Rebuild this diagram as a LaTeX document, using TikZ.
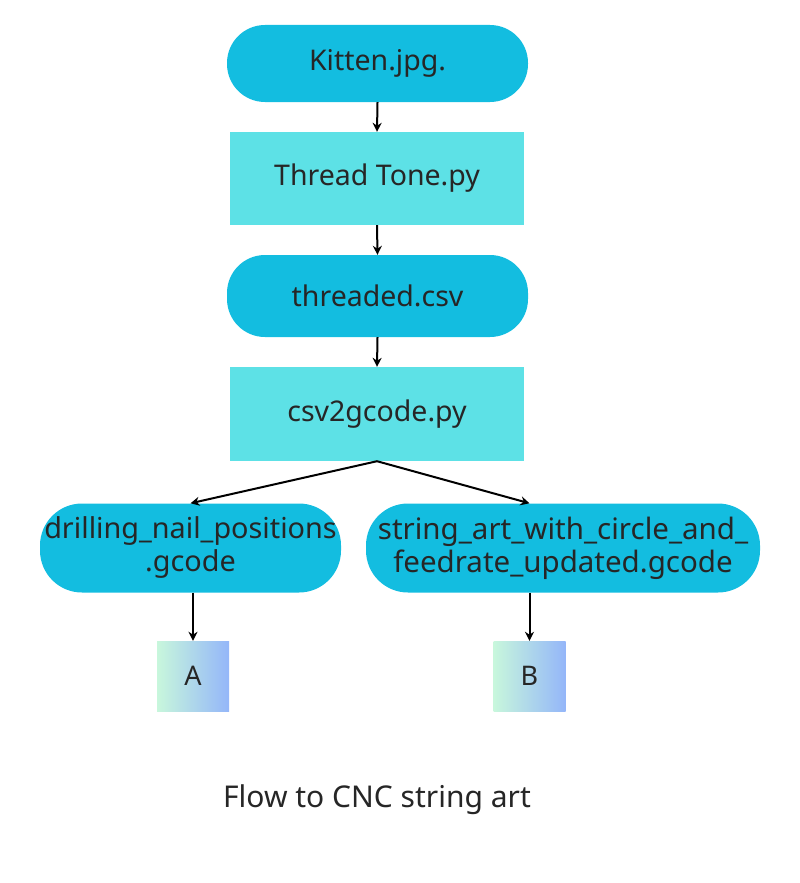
\documentclass[tikz,border=0pt]{standalone}
\usepackage{fontspec}
\setmainfont{Noto Sans}
\usetikzlibrary{arrows.meta,calc}
\definecolor{pill}{HTML}{13BDE0}
\definecolor{boxc}{HTML}{5DE1E6}
\definecolor{gleft}{HTML}{C8F7DC}
\definecolor{gright}{HTML}{94B6F9}
\tikzset{
  pillnode/.style={fill=pill, rounded corners=38pt, inner sep=0pt, align=center,
    font=\fontsize{28.5}{33}\selectfont, text=black!85},
  boxnode/.style={fill=boxc, inner sep=0pt, align=center,
    font=\fontsize{28.5}{33}\selectfont, text=black!85},
  lownode/.style={pillnode, minimum height=89pt, rounded corners=42pt,
    font=\fontsize{29.5}{33}\selectfont},
  gradnode/.style={left color=gleft, right color=gright, inner sep=0pt,
    minimum width=72pt, minimum height=70pt, font=\fontsize{27}{30}\selectfont, text=black!85},
  arr/.style={-{Stealth[length=9pt,width=9pt]}, line width=2pt, black}
}
\begin{document}
\begin{tikzpicture}[x=1pt,y=-1pt]
\useasboundingbox (0,0) rectangle (800,883);
\node[pillnode, minimum width=301pt, minimum height=77pt] (kitten) at (377.5,63.5) {Kitten.jpg.};
\node[boxnode, minimum width=294pt, minimum height=93pt] (tone) at (377,178.5) {Thread Tone.py};
\node[pillnode, minimum width=301pt, minimum height=82pt] (csv) at (377.5,296) {threaded.csv};
\node[boxnode, minimum width=294pt, minimum height=94pt] (gcode) at (377,414) {csv2gcode.py};
\node[lownode, minimum width=301pt, font=\fontsize{28.8}{33}\selectfont] (drill) at (190.5,548) {drilling\_nail\_positions\\.gcode};
\node[lownode, minimum width=394pt] (string) at (563,548) {string\_art\_with\_circle\_and\_\\feedrate\_updated.gcode};
\node[gradnode] (A) at (193,676) {A};
\node[gradnode] (B) at (529.5,676) {B};
\node[font=\fontsize{30}{34}\selectfont, text=black!85] (cap) at (377,800) {Flow to CNC string art};
\draw[arr] (kitten.south) -- (tone.north);
\draw[arr] (tone.south) -- (csv.north);
\draw[arr] (csv.south) -- (gcode.north);
\draw[arr] (gcode.south) -- (drill.north);
\draw[arr] (gcode.south) -- (string.north -| B.center);
\draw[arr] (drill.south -| A.north) -- (A.north);
\draw[arr] (string.south -| B.north) -- (B.north);
\end{tikzpicture}
\end{document}
